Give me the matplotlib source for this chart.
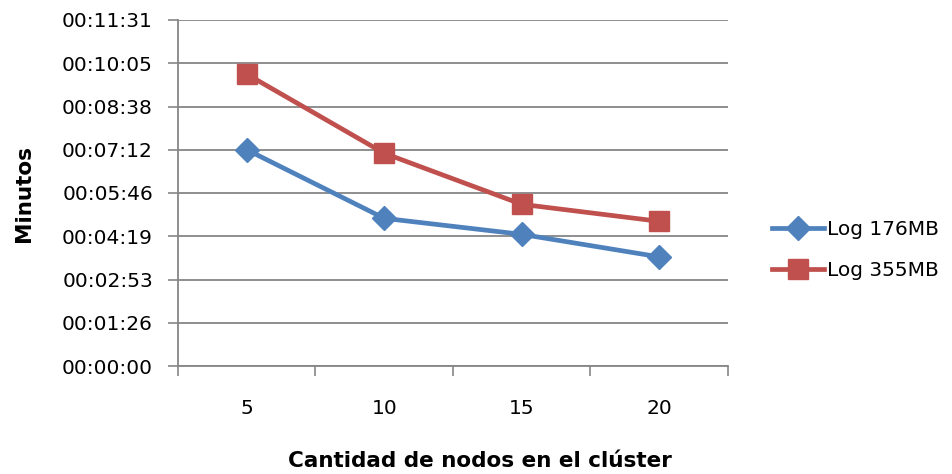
import matplotlib
matplotlib.use("Agg")
import matplotlib.pyplot as plt
from matplotlib.ticker import FuncFormatter, FixedLocator

categories = ["5", "10", "15", "20"]
series_names = ["Log 176MB", "Log 355MB"]
# values in seconds
log176 = [432, 295, 263, 218]
log355 = [583, 425, 323, 289]
y_ticks = [0, 86.4, 172.8, 259.2, 345.6, 432, 518.4, 604.8, 691.2]

plt.rcParams['font.family'] = ['DejaVu Sans']

fig = plt.figure(figsize=(9.53, 4.74), dpi=100)
ax = fig.add_axes([178/953, 1-366/474, (728-178)/953, (366-20)/474])

x = list(range(1, len(categories) + 1))
ax.plot(x, log176, color='#4F81BD', lw=3.4, marker='D', markersize=12,
        label=series_names[0], zorder=3)
ax.plot(x, log355, color='#C0504D', lw=3.4, marker='s', markersize=14,
        label=series_names[1], zorder=3)

ax.set_xlim(0.5, len(categories) + 0.5)
ax.set_ylim(0, 691.2)

def fmt(v, pos):
    s = int(round(v))
    return f"{s//3600:02d}:{(s%3600)//60:02d}:{s%60:02d}"

ax.yaxis.set_major_locator(FixedLocator(y_ticks))
ax.yaxis.set_major_formatter(FuncFormatter(fmt))
ax.set_xticks(x)
ax.set_xticklabels(categories)
ax.set_xticks([i + 0.5 for i in range(0, len(categories) + 1)], minor=True)
ax.tick_params(axis='x', which='major', length=0, pad=24, labelsize=14.5)
ax.tick_params(axis='x', which='minor', length=7, width=1.2, color='#868686')
ax.tick_params(axis='y', length=7, width=1.2, color='#868686', pad=11, labelsize=14.5)

ax.grid(axis='y', color='#868686', lw=1.3)
ax.set_axisbelow(True)
for s in ['top', 'right']:
    ax.spines[s].set_visible(False)
for s in ['left', 'bottom']:
    ax.spines[s].set_color('#868686')
    ax.spines[s].set_linewidth(1.3)

fig.text(480/953, 1-461/474, "Cantidad de nodos en el clúster", ha='center', va='center',
         fontsize=15.5, fontweight='bold')
fig.text(24/953, 1-193/474, "Minutos", ha='center', va='center', rotation=90,
         fontsize=15.5, fontweight='bold')

leg = fig.legend(loc='center left', bbox_to_anchor=(764/953, 1-250/474), frameon=False,
                 fontsize=14.5, handlelength=2.6, handletextpad=0.15, labelspacing=1.1,
                 borderaxespad=0)

fig.savefig("out.png", dpi=100)
